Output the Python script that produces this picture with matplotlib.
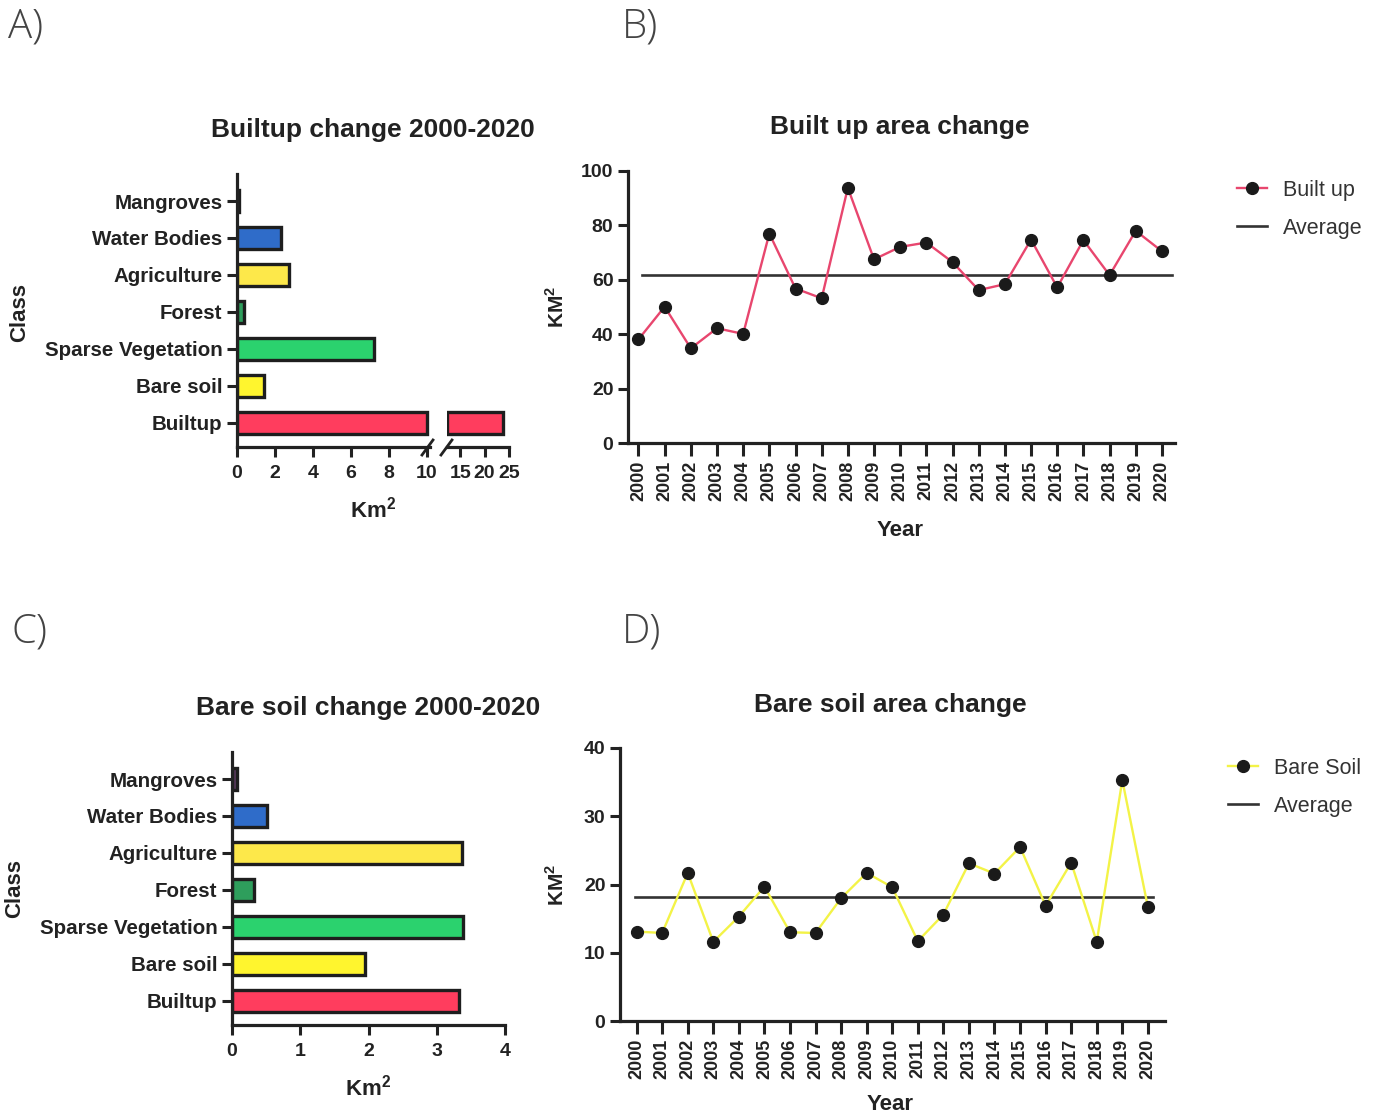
import numpy as np
import matplotlib
matplotlib.use("Agg")
import matplotlib.pyplot as plt
from matplotlib.lines import Line2D

# ---- data ----
classes = ["Builtup", "Bare soil", "Sparse Vegetation", "Forest",
           "Agriculture", "Water Bodies", "Mangroves"]
class_colors = ["#FF3D5E", "#FFF52E", "#2BD26E", "#2E9E5C",
                "#FDE84A", "#2F6CC9", "#5B3A5E"]
builtup_change_km2 = [23.7, 1.41, 7.2, 0.36, 2.75, 2.3, 0.1]
baresoil_change_km2 = [3.33, 1.95, 3.38, 0.32, 3.37, 0.51, 0.08]

years = list(range(2000, 2021))
builtup_area = [38.1, 50.1, 34.8, 42.2, 40.1, 77.0, 56.8, 53.2, 93.8, 67.5, 72.1,
                73.7, 66.5, 56.2, 58.4, 74.8, 57.2, 74.6, 61.7, 78.0, 70.5]
baresoil_area = [13.1, 12.9, 21.7, 11.6, 15.3, 19.7, 13.0, 12.9, 18.0, 21.7, 19.6,
                 11.7, 15.6, 23.1, 21.6, 25.5, 16.9, 23.2, 11.6, 35.3, 16.7]

# ---- style ----
plt.rcParams["font.family"] = ["Liberation Sans", "DejaVu Sans"]
plt.rcParams["font.weight"] = "bold"
plt.rcParams["mathtext.fontset"] = "custom"
plt.rcParams["mathtext.rm"] = "Liberation Sans"
plt.rcParams["mathtext.bf"] = "Liberation Sans:bold"
INK = "#222222"
EDGE = "#1e1e1e"
SPINE_W = 2.3
TICK_FS = 14
CAT_FS = 14.8
YEAR_FS = 13
TITLE_FS = 19
LABEL_FS = 16
KM2 = r"Km$^{\mathbf{2}}$"
KM2_UP = r"KM$^{\mathbf{2}}$"

W, H = 1384, 1118
fig = plt.figure(figsize=(W / 100, H / 100), dpi=100)


def box(x0, y0, x1, y1):
    return [x0 / W, 1 - y1 / H, (x1 - x0) / W, (y1 - y0) / H]


def fxy(x, y):
    return (x / W, 1 - y / H)


def style(ax, left=True):
    for s in ["top", "right"]:
        ax.spines[s].set_visible(False)
    ax.spines["bottom"].set_linewidth(SPINE_W)
    ax.spines["left"].set_linewidth(SPINE_W)
    ax.spines["left"].set_visible(left)
    ax.spines["bottom"].set_color(INK)
    ax.spines["left"].set_color(INK)
    ax.tick_params(width=2.2, length=7, labelsize=TICK_FS, colors=INK)


def ftext(x, y, s, **kw):
    kw.setdefault("ha", "center")
    kw.setdefault("va", "center")
    kw.setdefault("color", INK)
    fig.text(*fxy(x, y), s, **kw)


ypos = np.arange(len(classes))

# ---- A) builtup change, broken x-axis ----
vals_a = np.array(builtup_change_km2)
brk_lo, brk_hi = 10.0, 12.3
ax_a = fig.add_axes(box(237, 174, 430, 447))
ax_a.barh(ypos, np.minimum(vals_a, brk_lo), height=0.6, color=class_colors,
          edgecolor=EDGE, linewidth=2.4)
ax_a.set_xlim(0, 10.16)
ax_a.set_ylim(-0.65, 6.73)
ax_a.set_yticks(ypos, classes)
ax_a.set_xticks([0, 2, 4, 6, 8, 10])
style(ax_a)
ax_a.tick_params(axis="y", labelsize=CAT_FS)
ax_a.tick_params(axis="x", pad=6)

ax_a2 = fig.add_axes(box(447, 174, 509, 447))
big = vals_a > brk_hi
ax_a2.barh(ypos[big], vals_a[big] - brk_hi, left=brk_hi, height=0.6,
           color=np.array(class_colors)[big], edgecolor=EDGE, linewidth=2.4)
ax_a2.set_xlim(brk_hi, 25)
ax_a2.set_ylim(ax_a.get_ylim())
ax_a2.set_yticks([])
ax_a2.set_xticks([15, 20, 25])
style(ax_a2, left=False)
ax_a2.tick_params(axis="x", pad=6)

for x0 in (422, 441):
    fig.add_artist(Line2D([x0 / W, (x0 + 11) / W], [1 - 455 / H, 1 - 440 / H],
                          transform=fig.transFigure, color=INK, lw=2))

ftext(373, 130, "Builtup change 2000-2020", fontsize=TITLE_FS)
ftext(20, 312, "Class", fontsize=LABEL_FS, rotation=90)
ftext(373, 510, KM2, fontsize=LABEL_FS)

# ---- C) bare soil change ----
ax_c = fig.add_axes(box(232, 752, 505, 1025))
ax_c.barh(ypos, baresoil_change_km2, height=0.6, color=class_colors,
          edgecolor=EDGE, linewidth=2.4)
ax_c.set_xlim(0, 4)
ax_c.set_ylim(-0.65, 6.73)
ax_c.set_yticks(ypos, classes)
ax_c.set_xticks([0, 1, 2, 3, 4])
style(ax_c)
ax_c.tick_params(axis="y", labelsize=CAT_FS)
ax_c.tick_params(axis="x", pad=6)
ftext(368, 708, "Bare soil change 2000-2020", fontsize=TITLE_FS)
ftext(15, 888, "Class", fontsize=LABEL_FS, rotation=90)
ftext(368, 1088, KM2, fontsize=LABEL_FS)


# ---- B) and D) yearly series ----
def line_panel(rect, values, color, label, ylim, yticks, xlim, avg_span,
               title, title_xy, xlabel_xy, ylabel_xy, legend_xy):
    ax = fig.add_axes(box(*rect))
    ax.plot(years, values, color=color, lw=1.7, marker="o", ms=8.5,
            mfc="#1a1a1a", mec="#1a1a1a", label=label, zorder=3)
    avg = float(np.mean(values))
    ax.axhline(avg, xmin=avg_span[0], xmax=avg_span[1], color="#333333",
               lw=1.9, label="Average", zorder=2)
    ax.set_xlim(*xlim)
    ax.set_ylim(*ylim)
    ax.set_yticks(yticks)
    ax.set_xticks(years, [str(y) for y in years], rotation=90)
    style(ax)
    ax.tick_params(axis="x", labelsize=YEAR_FS, length=9, pad=4)
    ftext(*title_xy, title, fontsize=TITLE_FS)
    ftext(*xlabel_xy, "Year", fontsize=LABEL_FS)
    ftext(*ylabel_xy, KM2_UP, fontsize=15, rotation=90)
    leg = ax.legend(loc="upper left", bbox_to_anchor=fxy(*legend_xy),
                    bbox_transform=fig.transFigure, frameon=False,
                    fontsize=15.5, handlelength=1.4, handletextpad=0.75,
                    labelspacing=0.78, borderaxespad=0, borderpad=0)
    for t in leg.get_texts():
        t.set_fontweight("normal")
        t.set_color("#333333")
    return ax


line_panel((628, 171, 1175, 443), builtup_area, "#E8466E", "Built up",
           (0, 100), [0, 20, 40, 60, 80, 100], (1999.6, 2020.5), (0.026, 0.995),
           "Built up area change", (900, 127), (900, 530), (557, 307), (1237, 180))

line_panel((620, 748, 1165, 1021), baresoil_area, "#F3F347", "Bare Soil",
           (0, 40), [0, 10, 20, 30, 40], (1999.35, 2020.67), (0.028, 0.978),
           "Bare soil area change", (890, 705), (890, 1105), (557, 885), (1228, 758))

# ---- panel letters ----
for letter, x, y in [("A)", 8, 27), ("B)", 622, 27), ("C)", 12, 632), ("D)", 622, 632)]:
    fig.text(*fxy(x, y), letter, fontsize=29, fontweight="light", color="#444444",
             family=["Open Sans", "DejaVu Sans"], ha="left", va="center")

fig.savefig("out.png", dpi=100, facecolor="white")
